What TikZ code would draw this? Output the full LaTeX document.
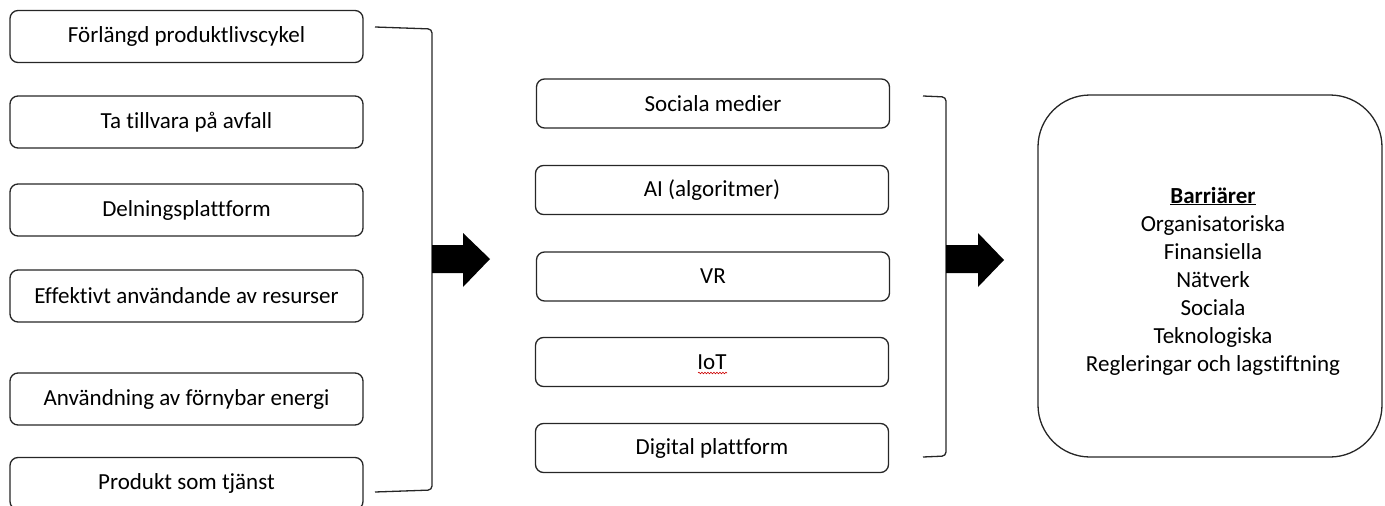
\documentclass[tikz,border=0pt]{standalone}
\usepackage{fontspec}
\setmainfont[Ligatures=CommonOff]{Carlito}
\usetikzlibrary{decorations.pathmorphing}
\begin{document}
\begin{tikzpicture}[x=1pt,y=-1pt,
  box/.style={draw=black!85,line width=1.3pt,rounded corners=8pt,minimum width=353pt,minimum height=52pt,inner sep=0pt,font=\fontsize{23}{26}\selectfont},
  mbox/.style={box,minimum width=353pt,minimum height=49pt},
  bracket/.style={draw=black!85,line width=1.3pt,rounded corners=4pt},
  blockarrow/.style={fill=black,draw=none},
  spell/.style={red!80!black,line width=0.6pt,decorate,decoration={snake,amplitude=0.8pt,segment length=3pt}},
  bigbox/.style={draw=black!85,line width=1.3pt,rounded corners=52pt,minimum width=344pt,minimum height=362pt,inner sep=0pt}
]
\useasboundingbox (0,0) rectangle (1385,506);
\clip (0,0) rectangle (1385,506);
% left column
\node[box] (l1) at (186.5,36.5) {Förlängd produktlivscykel};
\node[box] (l2) at (186.5,122) {Ta tillvara på avfall};
\node[box] (l3) at (186.5,210) {Delningsplattform};
\node[box] (l4) at (186.5,296) {Effektivt användande av resurser};
\node[box] (l5) at (186.5,399) {Användning av förnybar energi};
\node[box] (l6) at (186.5,483.5) {Produkt som tjänst};
% left bracket
\coordinate (b1t) at (375,27);
\coordinate (b1b) at (375,492);
\draw[bracket] (b1t) -- (432,29) -- (432,490) -- (b1b);
% arrow 1
\fill[blockarrow] (432,245) -- (463,245) -- (463,233) -- (490,259) -- (463,287) -- (463,273) -- (432,273) -- cycle;
% middle column
\node[mbox] (m1) at (713,103.5) {Sociala medier};
\node[mbox] (m2) at (712,190) {AI (algoritmer)};
\node[mbox] (m3) at (713,276.5) {VR};
\node[mbox] (m4) at (712,362) {IoT};
\node[mbox] (m5) at (712,448) {Digital plattform};
\coordinate (s1) at (698,373);
\coordinate (s2) at (727,373);
\draw[spell] (s1) -- (s2);
% middle bracket
\coordinate (b2t) at (923,96);
\coordinate (b2b) at (923,457);
\draw[bracket] (b2t) -- (946,97) -- (946,456) -- (b2b);
% arrow 2
\fill[blockarrow] (946,245) -- (978,245) -- (978,233) -- (1004,260) -- (978,287) -- (978,273) -- (946,273) -- cycle;
% right box
\node[bigbox] (r) at (1210,276) {};
\node[align=center,font=\fontsize{23}{28}\selectfont] (rt) at (1213,281) {\textbf{\underline{Barriärer}}\\Organisatoriska\\Finansiella\\Nätverk\\Sociala\\Teknologiska\\Regleringar och lagstiftning};
\end{tikzpicture}
\end{document}
